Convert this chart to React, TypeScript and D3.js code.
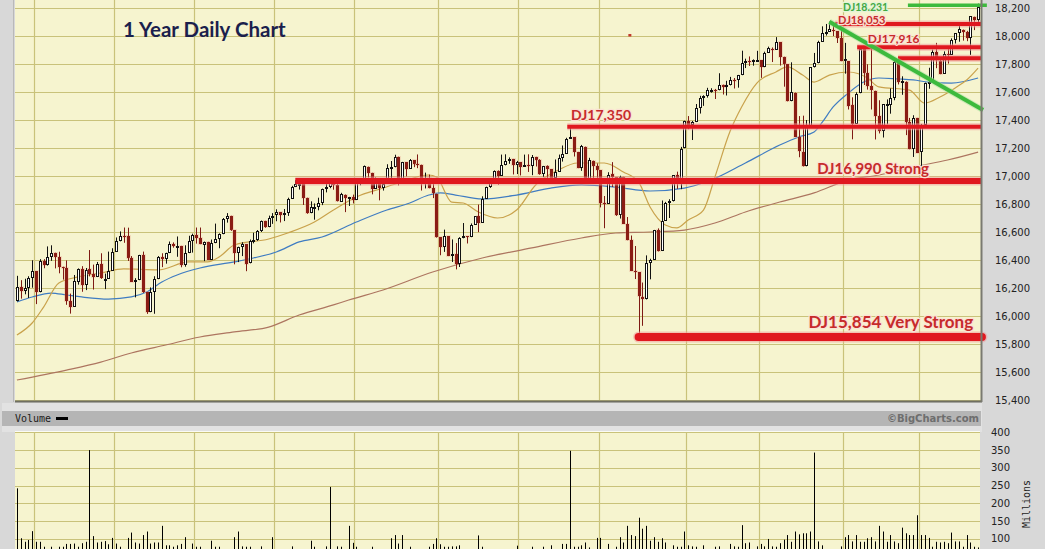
import React from "react";
import * as d3 from "d3";

const W = 1045;
const H = 549;

// ---- Daily candles, 24 Feb 2014 .. 24 Feb 2015 (253 trading days) ----
const opens = [
  16104, 16208, 16180, 16197, 16273,
  16321, 16169, 16396, 16361, 16424, 16452, 16419, 16348, 16340, 16108, 16066, 16246, 16336, 16222, 16333, 16303, 16278, 16369, 16264, 16264, 16324,
  16458, 16533, 16573, 16573, 16411, 16245, 16256, 16437, 16170, 16027, 16174, 16263, 16424, 16408, 16449, 16513, 16502, 16501, 16362, 16449, 16534,
  16581, 16560, 16509, 16530, 16402, 16520, 16550, 16584, 16695, 16715, 16613, 16449, 16490, 16511, 16376, 16535, 16543, 16606, 16676, 16634, 16697,
  16718, 16742, 16720, 16738, 16838, 16921, 16943, 16943, 16843, 16734, 16775, 16779, 16808, 16907, 16921, 16947, 16937, 16817, 16866, 16845, 16850,
  16828, 16957, 16977, 17067, 17023, 16909, 16981, 16916, 16945, 17053, 17062, 17137, 16978, 17097, 17053, 17113, 17087, 17081, 16960, 16983, 16915, 16873,
  16561, 16494, 16569, 16427, 16445, 16368, 16555, 16569, 16563, 16652, 16714, 16665, 16838, 16918, 16979, 17039, 17002, 17076, 17107, 17121, 17080,
  17098, 17068, 17079, 17069, 17137, 17112, 17013, 17068, 17048, 16988, 17029, 17132, 17157, 17267, 17276, 17172, 17055, 17210, 16944, 17110, 17071,
  17041, 16804, 16802, 17012, 16991, 16718, 16993, 16658, 16541, 16321, 16313, 16139, 16118, 16379, 16402, 16615, 16464, 16679, 16805, 16818, 17006, 16969, 17198,
  17390, 17366, 17385, 17484, 17554, 17574, 17614, 17614, 17612, 17652, 17634, 17647, 17687, 17685, 17720, 17810, 17818, 17815, 17828,
  17827, 17777, 17880, 17910, 17903, 17957, 17852, 17800, 17534, 17596, 17281, 17174, 17069, 17358, 17778, 17805, 17960, 18025, 18031, 18046, 18035, 17987,
  17823, 17821, 17505, 17374, 17591, 17908, 17738, 17645, 17609, 17427, 17318, 17512, 17505, 17555, 17814, 17662, 17675, 17389, 17192, 17415,
  17169, 17366, 17663, 17677, 17885, 17821, 17732, 17869, 17865, 17973, 18019, 18046, 18029, 17986, 18135, 18117,
];
const highs = [
  16287, 16256, 16266, 16284, 16398,
  16321, 16406, 16406, 16497, 16505, 16452, 16459, 16352, 16397, 16160, 16293, 16340, 16356, 16343, 16471, 16367, 16386, 16448, 16303, 16460, 16484,
  16561, 16604, 16632, 16631, 16428, 16270, 16437, 16460, 16170, 16204, 16284, 16428, 16448, 16452, 16532, 16526, 16568, 16501, 16505, 16573, 16588,
  16632, 16632, 16532, 16530, 16546, 16660, 16590, 16700, 16735, 16716, 16613, 16495, 16527, 16511, 16546, 16595, 16614, 16682, 16680, 16717, 16735,
  16762, 16742, 16764, 16845, 16930, 16970, 16951, 16943, 16845, 16819, 16804, 16845, 16910, 16959, 16978, 16966, 16970, 16880, 16868, 16851, 16867,
  16985, 16978, 17075, 17067, 17023, 16990, 16981, 16960, 17084, 17107, 17152, 17138, 17101, 17097, 17121, 17113, 17154, 17081, 17024, 17010, 16979, 16873,
  16561, 16617, 16569, 16547, 16521, 16563, 16664, 16569, 16661, 16714, 16796, 16855, 16924, 16980, 17040, 17040, 17153, 17155, 17133, 17122, 17108,
  17099, 17153, 17155, 17150, 17137, 17120, 17072, 17076, 17048, 17118, 17153, 17218, 17273, 17351, 17276, 17172, 17222, 17210, 17130, 17110, 17090,
  17041, 16857, 17027, 17099, 16992, 17002, 16994, 16707, 16575, 16500, 16313, 16239, 16433, 16409, 16615, 16626, 16825, 16815, 16834, 17006, 17031, 17208, 17395,
  17428, 17393, 17514, 17573, 17577, 17630, 17627, 17622, 17734, 17653, 17680, 17708, 17700, 17722, 17895, 17838, 17854, 17833, 17894,
  17827, 17888, 17924, 17918, 17992, 17957, 17852, 17800, 17812, 17596, 17428, 17431, 17400, 17778, 17879, 17966, 18069, 18086, 18103, 18073, 18035, 18044,
  17951, 17821, 17562, 17598, 17917, 17908, 17798, 17951, 17609, 17541, 17512, 17547, 17626, 17843, 17836, 17712, 17676, 17415, 17434, 17415,
  17372, 17667, 17773, 17903, 17951, 17833, 17890, 17910, 17983, 18021, 18072, 18043, 18037, 18140, 18138, 18231,
];
const lows = [
  16104, 16124, 16155, 16129, 16202,
  16085, 16169, 16341, 16360, 16394, 16340, 16305, 16260, 16080, 16017, 16066, 16224, 16173, 16185, 16283, 16189, 16278, 16265, 16192, 16264, 16324,
  16458, 16533, 16523, 16393, 16243, 16133, 16258, 16165, 16015, 16027, 16016, 16263, 16349, 16374, 16449, 16488, 16423, 16348, 16352, 16449, 16453,
  16517, 16513, 16392, 16400, 16402, 16520, 16484, 16584, 16667, 16608, 16369, 16385, 16428, 16320, 16376, 16519, 16537, 16600, 16630, 16634, 16658,
  16677, 16668, 16678, 16715, 16838, 16921, 16903, 16793, 16730, 16734, 16688, 16755, 16792, 16883, 16913, 16902, 16818, 16817, 16742, 16786, 16804,
  16828, 16934, 16977, 16989, 16869, 16909, 16826, 16896, 16945, 16985, 17062, 16933, 16978, 16997, 17053, 17063, 17056, 16896, 16911, 16912, 16842, 16560,
  16434, 16458, 16428, 16386, 16333, 16350, 16555, 16518, 16563, 16652, 16599, 16665, 16838, 16915, 16979, 16937, 17002, 17076, 17087, 17011, 17014,
  17004, 17068, 17029, 17006, 17068, 17009, 16992, 16946, 16953, 16988, 17029, 17103, 17157, 17267, 17139, 17056, 17037, 16945, 16944, 16946, 16965,
  16776, 16627, 16802, 16921, 16715, 16696, 16659, 16541, 16321, 16264, 15855, 15930, 16118, 16262, 16402, 16461, 16464, 16679, 16700, 16818, 16908, 16906, 17198,
  17334, 17257, 17385, 17446, 17501, 17560, 17595, 17550, 17612, 17582, 17575, 17647, 17625, 17631, 17720, 17771, 17786, 17788, 17817,
  17701, 17777, 17880, 17814, 17903, 17789, 17638, 17533, 17534, 17281, 17134, 17068, 17069, 17358, 17775, 17805, 17960, 18003, 18031, 17999, 17950, 17820,
  17731, 17475, 17262, 17374, 17591, 17650, 17617, 17475, 17261, 17304, 17275, 17369, 17445, 17541, 17654, 17580, 17292, 17191, 17136, 17164,
  17038, 17366, 17623, 17677, 17770, 17727, 17732, 17803, 17865, 17946, 17959, 17967, 17963, 17865, 18042, 18080,
];
const closes = [
  16207, 16179, 16198, 16272, 16322,
  16168, 16395, 16361, 16421, 16453, 16418, 16351, 16340, 16109, 16066, 16247, 16337, 16223, 16332, 16303, 16276, 16368, 16268, 16264, 16323, 16458,
  16533, 16573, 16572, 16413, 16246, 16256, 16437, 16171, 16027, 16174, 16263, 16425, 16409, 16449, 16514, 16502, 16502, 16361, 16448, 16535, 16581,
  16558, 16513, 16531, 16401, 16518, 16551, 16583, 16696, 16716, 16613, 16447, 16491, 16512, 16374, 16533, 16543, 16606, 16676, 16633, 16698, 16717,
  16744, 16722, 16738, 16837, 16924, 16943, 16945, 16843, 16735, 16776, 16781, 16808, 16906, 16921, 16947, 16937, 16819, 16868, 16846, 16851, 16827,
  16956, 16976, 17068, 17024, 16907, 16986, 16915, 16944, 17055, 17061, 17138, 16977, 17100, 17052, 17114, 17087, 17083, 16961, 16983, 16913, 16881, 16563,
  16493, 16569, 16430, 16444, 16369, 16554, 16570, 16561, 16652, 16713, 16663, 16838, 16919, 16979, 17039, 17001, 17077, 17107, 17122, 17079, 17098,
  17067, 17078, 17070, 17138, 17111, 17014, 17068, 17049, 16988, 17031, 17131, 17157, 17266, 17280, 17173, 17056, 17211, 16946, 17113, 17071, 17043,
  16805, 16801, 17009, 16992, 16720, 16995, 16660, 16544, 16321, 16316, 16142, 16118, 16380, 16400, 16615, 16462, 16677, 16805, 16818, 17006, 16975, 17196, 17391,
  17367, 17384, 17484, 17555, 17574, 17614, 17615, 17612, 17652, 17635, 17648, 17688, 17686, 17720, 17810, 17818, 17815, 17828, 17828,
  17776, 17880, 17913, 17901, 17959, 17853, 17801, 17533, 17597, 17281, 17180, 17069, 17357, 17778, 17805, 17959, 18024, 18030, 18053, 18038, 17983, 17823,
  17833, 17501, 17371, 17585, 17908, 17737, 17640, 17613, 17427, 17320, 17512, 17516, 17554, 17814, 17673, 17678, 17388, 17191, 17416, 17165,
  17362, 17666, 17673, 17885, 17825, 17730, 17869, 17863, 17973, 18019, 18048, 18030, 17986, 18140, 18117, 18209,
];
// Volume, millions
const volumes = [
  242, 101, 91, 96, 121, 91, 91, 77, 68, 77,
  70, 77, 77, 85, 85, 86, 77, 87, 91, 350,
  107, 89, 91, 93, 84, 102, 86, 77, 70, 102,
  117, 89, 86, 110, 120, 86, 89, 89, 136, 81,
  81, 77, 81, 85, 104, 68, 86, 77, 77, 66,
  68, 94, 77, 77, 66, 64, 68, 104, 120, 78,
  77, 77, 66, 62, 78, 64, 60, 104, 66, 64,
  68, 66, 78, 65, 64, 66, 68, 94, 77, 66,
  64, 78, 246, 66, 78, 77, 68, 136, 88, 77,
  68, 60, 62, 77, 66, 68, 66, 70, 101, 110,
  86, 110, 68, 77, 66, 64, 68, 66, 77, 85,
  101, 84, 77, 77, 78, 78, 81, 68, 66, 64,
  66, 109, 77, 66, 64, 62, 64, 66, 60, 64,
  66, 80, 68, 66, 70, 77, 66, 68, 77, 66,
  81, 68, 70, 85, 85, 348, 77, 77, 81, 89,
  75, 70, 102, 102, 70, 85, 70, 77, 104, 89,
  136, 110, 107, 159, 128, 136, 94, 104, 91, 101,
  89, 70, 81, 77, 77, 120, 81, 78, 77, 68,
  81, 66, 68, 77, 78, 66, 68, 85, 78, 77,
  138, 87, 89, 60, 78, 85, 78, 99, 78, 77,
  87, 97, 110, 91, 120, 112, 115, 115, 120, 343,
  92, 81, 68, 60, 55, 66, 78, 104, 110, 92,
  110, 91, 91, 101, 104, 92, 136, 120, 91, 110,
  92, 87, 131, 115, 110, 110, 166, 110, 110, 102,
  77, 91, 89, 91, 87, 117, 92, 92, 77, 110,
  89, 77, 75,
];

// Index of the first trading day of each month (Mar 2014 .. Feb 2015)
const monthStarts = [5, 26, 47, 68, 89, 111, 132, 153, 176, 195, 217, 237];

// Moving averages (day index, value)
const ma20Days = [0, 4, 7, 11, 16, 22, 28, 37, 45, 50, 53, 57, 66, 71, 78, 83, 89, 96, 100, 108, 110, 114, 117, 121, 126, 131, 136, 142, 147, 154, 159, 163, 166, 170, 173, 176, 180, 183, 187, 190, 194, 199, 202, 206, 209, 213, 218, 223, 226, 234, 238, 242, 246, 249, 252];
const ma20Vals = [15864, 15950, 16064, 16236, 16279, 16307, 16336, 16329, 16386, 16386, 16421, 16507, 16550, 16593, 16671, 16757, 16850, 16914, 16950, 17007, 16993, 16814, 16807, 16743, 16700, 16757, 16936, 17043, 17093, 17093, 17029, 16957, 16779, 16650, 16629, 16686, 16757, 16993, 17321, 17493, 17664, 17743, 17779, 17721, 17671, 17721, 17743, 17700, 17636, 17614, 17521, 17564, 17629, 17686, 17771];
const ma50Days = [0, 4, 9, 13, 17, 24, 30, 34, 38, 42, 48, 57, 62, 68, 74, 80, 89, 97, 103, 108, 111, 115, 122, 131, 140, 148, 157, 166, 175, 182, 191, 200, 205, 209, 211, 214, 218, 222, 226, 231, 235, 239, 245, 252];
const ma50Vals = [16100, 16136, 16164, 16150, 16136, 16121, 16136, 16171, 16243, 16293, 16343, 16386, 16414, 16457, 16529, 16564, 16671, 16757, 16807, 16864, 16879, 16864, 16836, 16864, 16914, 16936, 16921, 16893, 16914, 16971, 17093, 17221, 17279, 17314, 17379, 17493, 17593, 17671, 17700, 17693, 17686, 17671, 17664, 17700];
const ma200Days = [0, 13, 22, 30, 39, 48, 57, 66, 74, 83, 87, 96, 109, 122, 135, 148, 157, 166, 175, 183, 191, 200, 209, 218, 226, 235, 244, 252];
const ma200Vals = [15543, 15614, 15671, 15736, 15793, 15850, 15886, 15921, 16007, 16079, 16114, 16186, 16314, 16414, 16486, 16557, 16593, 16600, 16614, 16664, 16743, 16814, 16879, 16971, 17007, 17064, 17114, 17171];

const priceTicks = [15400, 15600, 15800, 16000, 16200, 16400, 16600, 16800, 17000, 17200, 17400, 17600, 17800, 18000, 18200];
const volumeTicks = [50, 100, 150, 200, 250, 300, 350, 400];
const volumeLabels = [100, 150, 200, 250, 300, 350, 400];

// Support / resistance annotations
const supportValues = [17352, 16964, 15850, 18086, 17919, 17841];
const supportStart = [144.3, 73, 163, 214.5, 220.3, 231];
const supportEnd = 253;
const resistanceValue = 18219;
const resistanceStart = 233.6;
const resistanceEnd = 254.3;
const trendDays = [213, 253.3];
const trendVals = [18102, 17471];
const labelTexts = ["DJ17,350", "DJ16,990 Strong", "DJ15,854 Very Strong", "DJ18,053", "DJ17,916", "DJ18.231"];
const labelDays = [145.3, 209.8, 250.7, 215.3, 223.1, 216.6];
const labelVals = [17400, 17014, 15914, 18088, 17950, 18182];
const markDay = 160.7;
const markVal = 18007;

export default function App() {
  const n = closes.length;
  const x = d3.scaleLinear().domain([-0.5, n - 0.5]).range([15, 980]);
  const y = d3.scaleLinear().domain([15400, 18200]).range([400, 8]);
  const yv = d3.scaleLinear().domain([0, 400]).range([574, 432.4]);
  const cx = (i: number) => Math.round(x(i));

  const maPath = (days: number[], vals: number[]) =>
    d3
      .line<number>()
      .x((_, k) => x(days[k]))
      .y((v) => y(v))
      .curve(d3.curveMonotoneX)(vals) || "";

  const grid = "#c9c27a";
  const red = "#e0181f";
  const labelSizes = [14, 15, 17, 11, 12, 10.5];
  const lineWidths = [4, 6, 8, 4, 4, 4];

  return (
    <svg
      width={W}
      height={H}
      viewBox={`0 0 ${W} ${H}`}
      style={{ position: "absolute", left: 0, top: 0, display: "block" }}
    >
      <rect x={0} y={0} width={W} height={H} fill="#d8d8d8" />
      <line x1={13.5} x2={13.5} y1={0} y2={402} stroke="#b9b9b9" />

      {/* ---------- price panel ---------- */}
      <rect x={15} y={0} width={966} height={401} fill="#f6f4cf" />
      {priceTicks.map((t) => (
        <line key={"pg" + t} x1={15} x2={981} y1={Math.round(y(t)) + 0.5} y2={Math.round(y(t)) + 0.5} stroke={grid} strokeWidth={1.2} />
      ))}
      {monthStarts.map((m) => (
        <line key={"mg" + m} x1={Math.round(x(m - 0.5)) + 0.5} x2={Math.round(x(m - 0.5)) + 0.5} y1={0} y2={401} stroke={grid} strokeWidth={1.2} />
      ))}

      {/* moving averages */}
      <path d={maPath(ma200Days, ma200Vals)} fill="none" stroke="#ad7560" strokeWidth={1.2} />
      <path d={maPath(ma50Days, ma50Vals)} fill="none" stroke="#3f7cc2" strokeWidth={1.2} />
      <path d={maPath(ma20Days, ma20Vals)} fill="none" stroke="#c9a24c" strokeWidth={1.2} />

      {/* candles */}
      {closes.map((c, i) => {
        const o = opens[i];
        const hi = Math.max(highs[i], o, c);
        const lo = Math.min(lows[i], o, c);
        const up = c >= o;
        const px = cx(i);
        const top = Math.round(y(Math.max(o, c)));
        const bot = Math.round(y(Math.min(o, c)));
        const hgt = Math.max(1, bot - top);
        if (up) {
          return (
            <g key={"c" + i}>
              <line x1={px + 0.5} x2={px + 0.5} y1={y(hi)} y2={y(lo)} stroke="#111" strokeWidth={1} />
              <rect x={px - 0.5} y={top + 0.5} width={2} height={Math.max(1, hgt - 1)} fill="#ffffff" stroke="#111" strokeWidth={1} />
            </g>
          );
        }
        return (
          <g key={"c" + i}>
            <rect x={px - 2} y={top - 1} width={5} height={hgt + 2} fill="#e9a08c" opacity={0.3} />
            <line x1={px + 0.5} x2={px + 0.5} y1={y(hi)} y2={y(lo)} stroke="#7e1a14" strokeWidth={1} />
            <rect x={px - 1} y={top} width={3} height={hgt} fill="#8a1c14" />
          </g>
        );
      })}

      {/* support lines */}
      {supportValues.map((v, k) => (
        <g key={"s" + k}>
          <line x1={x(supportStart[k])} x2={x(supportEnd)} y1={y(v)} y2={y(v)} stroke="#f09a9a" strokeOpacity={0.55} strokeWidth={lineWidths[k] + 3} strokeLinecap={k === 2 ? "round" : "butt"} />
          <line x1={x(supportStart[k])} x2={x(supportEnd)} y1={y(v)} y2={y(v)} stroke={red} strokeWidth={lineWidths[k]} strokeLinecap={k === 2 ? "round" : "butt"} />
        </g>
      ))}
      <line x1={x(resistanceStart)} x2={x(resistanceEnd)} y1={y(resistanceValue)} y2={y(resistanceValue)} stroke="#3dba3d" strokeWidth={3.5} />
      <line x1={x(trendDays[0])} x2={x(trendDays[1])} y1={y(trendVals[0])} y2={y(trendVals[1])} stroke="#a8e0a0" strokeOpacity={0.5} strokeWidth={6} />
      <line x1={x(trendDays[0])} x2={x(trendDays[1])} y1={y(trendVals[0])} y2={y(trendVals[1])} stroke="#3dba3d" strokeWidth={4} />
      <rect x={x(markDay) - 1.5} y={y(markVal) - 1} width={3} height={2.5} fill="#c0392b" />

      {/* labels */}
      {labelTexts.map((t, k) => (
        <text
          key={"l" + k}
          x={x(labelDays[k])}
          y={y(labelVals[k])}
          textAnchor={k === 2 ? "end" : "start"}
          fontFamily="Lato, 'Open Sans', sans-serif"
          fontWeight={700}
          fontSize={labelSizes[k]}
          fill={k === 5 ? "#43a843" : "#c62b2b"}
          stroke={k === 5 ? "#e3f4d8" : "#fbe2d4"}
          strokeWidth={2.5}
          strokeLinejoin="round"
          paintOrder="stroke"
        >
          {t}
        </text>
      ))}

      <text x={123} y={37} fontFamily="Lato, 'Open Sans', sans-serif" fontWeight={700} fontSize={20.5} fill="#1b1f4d">
        1 Year Daily Chart
      </text>

      {/* borders */}
      <line x1={15} x2={982} y1={401.5} y2={401.5} stroke="#6f6f62" strokeWidth={2} />
      <line x1={981.5} x2={981.5} y1={0} y2={402} stroke="#7a7a70" strokeWidth={2} />

      {/* price axis labels */}
      {priceTicks.map((t) => (
        <text key={"pl" + t} x={995} y={y(t) + 3.6} fontFamily="'DejaVu Sans', Verdana, sans-serif" fontSize={10} fill="#222">
          {d3.format(",")(t)}
        </text>
      ))}

      {/* ---------- volume panel ---------- */}
      <rect x={2} y={403} width={980} height={29} fill="#e2e2e2" />
      <rect x={2} y={411} width={979} height={15} fill="#b5b5b5" />
      <text x={15} y={422} fontFamily="'DejaVu Sans Mono', monospace" fontSize={10} fill="#1a1a1a">
        Volume
      </text>
      <rect x={56} y={417} width={12} height={3} fill="#000" />
      <text x={979} y={422} textAnchor="end" fontFamily="'DejaVu Sans', Verdana, sans-serif" fontWeight={700} fontSize={10} fill="#6e6e6e">
        ©BigCharts.com
      </text>

      <rect x={15} y={432} width={965} height={H - 432} fill="#f6f4cf" />
      <line x1={15} x2={980} y1={431.5} y2={431.5} stroke="#fbfbf4" />
      {volumeTicks.map((t) => (
        <line key={"vg" + t} x1={15} x2={980} y1={Math.round(yv(t)) + 0.5} y2={Math.round(yv(t)) + 0.5} stroke={grid} strokeWidth={1.2} />
      ))}
      {monthStarts.map((m) => (
        <line key={"vm" + m} x1={Math.round(x(m - 0.5)) + 0.5} x2={Math.round(x(m - 0.5)) + 0.5} y1={432} y2={H} stroke={grid} strokeWidth={1.2} />
      ))}
      {volumes.map((v, i) => (
        <line key={"v" + i} x1={cx(i) + 0.5} x2={cx(i) + 0.5} y1={yv(v)} y2={yv(0)} stroke="#000" strokeWidth={1} />
      ))}
      {volumeLabels.map((t) => (
        <text key={"vl" + t} x={991} y={yv(t) + 3.6} fontFamily="'DejaVu Sans', Verdana, sans-serif" fontSize={10} fill="#222">
          {t}
        </text>
      ))}
      <text
        transform="translate(1030,504) rotate(-90)"
        textAnchor="middle"
        fontFamily="'DejaVu Sans Mono', monospace"
        fontSize={10}
        fill="#222"
      >
        Millions
      </text>
    </svg>
  );
}
